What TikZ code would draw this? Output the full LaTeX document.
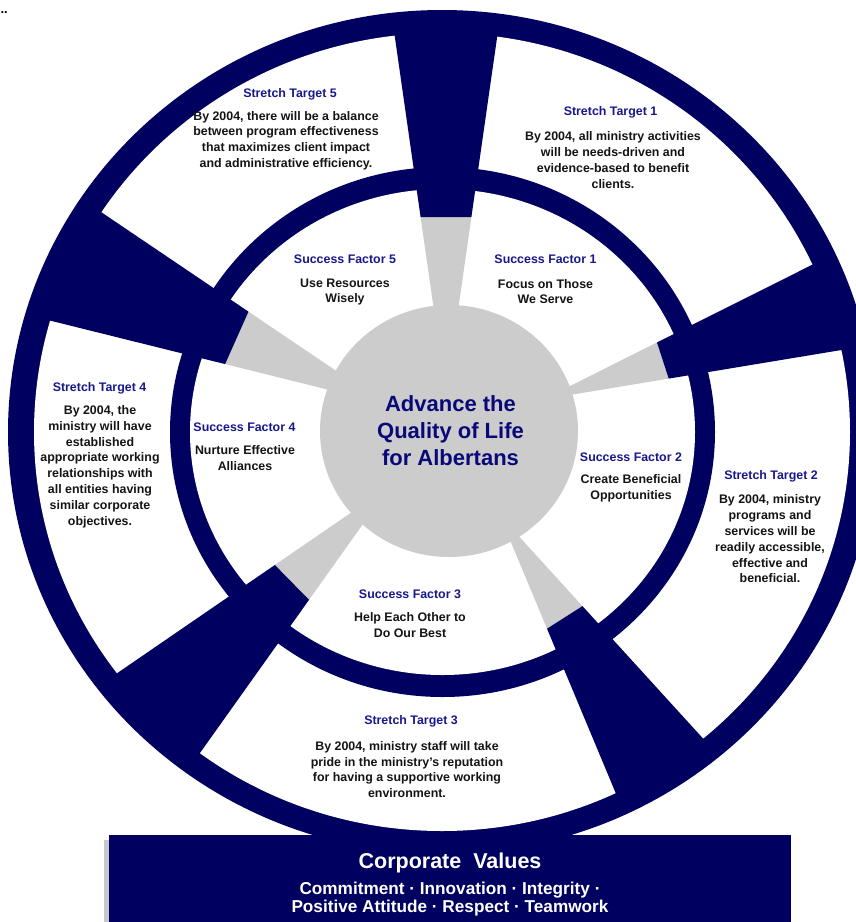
\documentclass[tikz,border=0pt]{standalone}
\usepackage{fontspec}
\setmainfont{Liberation Sans}
\definecolor{ringnavy}{RGB}{0,0,96}
\definecolor{headblue}{RGB}{24,24,140}
\definecolor{hubblue}{RGB}{8,8,120}
\definecolor{bodyink}{RGB}{20,20,20}
\definecolor{hubgray}{RGB}{204,204,204}
\definecolor{shadowgray}{RGB}{200,200,200}
\begin{document}
\begin{tikzpicture}[x=1pt,y=-1pt,
  headtxt/.style={font=\fontsize{12.4}{15.8}\selectfont\bfseries, text=headblue, inner sep=0pt},
  bodytxt/.style={font=\fontsize{12.4}{15.8}\selectfont\bfseries, text=bodyink, align=center, inner sep=0pt},
  hubtxt/.style={font=\fontsize{22}{27}\selectfont\bfseries, text=hubblue, align=center, inner sep=0pt},
]
% canvas
\fill[white] (0,0) rectangle (856,922);
\useasboundingbox (0,0) rectangle (856,922);
\node[anchor=base east, font=\fontsize{13}{15}\selectfont\bfseries, inner sep=0pt] (mark) at (8,13) {..};

% outer ring and middle ring
\fill[ringnavy] (442,432) ellipse [x radius=434, y radius=422];
\fill[white]    (442,432) ellipse [x radius=408, y radius=399];
\fill[ringnavy] (442.5,432) ellipse [x radius=272.5, y radius=265];
\fill[white]    (442.5,432) ellipse [x radius=252.5, y radius=243];

% spokes: grey inner part, navy outer part
\foreach \ang/\rg/\wg/\wo in {90/214/25.4/52, 18/228/19/45, -57.5/221/21/52, -135.5/216/24.4/57, 156/229/28.7/59} {
  \pgfmathsetmacro\slope{(\wo-\wg)/(400-\rg)}
  \pgfmathsetmacro\wi{max(\wg+\slope*(110-\rg),1)}
  \pgfmathsetmacro\wout{\wg+\slope*(414-\rg)}
  \begin{scope}[shift={(446,431)}, rotate=\ang]
    \fill[hubgray] (110,-\wi) -- (\rg,-\wg) -- (\rg,\wg) -- (110,\wi) -- cycle;
    \fill[ringnavy] (\rg,-\wg) -- (414,-\wout) -- (414,\wout) -- (\rg,\wg) -- cycle;
  \end{scope}
}

% hub
\fill[hubgray] (449,431) ellipse [x radius=129, y radius=126];
\node[hubtxt] (hub) at (450.5,431) {Advance the\\Quality of Life\\for Albertans};

% stretch targets
\node[headtxt] (st1h) at (610.5,112) {Stretch Target 1};
\node[bodytxt] (st1b) at (613,160) {By 2004, all ministry activities\\will be needs-driven and\\evidence-based to benefit\\clients.};
\node[headtxt] (st2h) at (771,476) {Stretch Target 2};
\node[bodytxt] (st2b) at (770,539) {By 2004, ministry\\programs and\\services will be\\readily accessible,\\effective and\\beneficial.};
\node[headtxt] (st3h) at (411,721) {Stretch Target 3};
\node[bodytxt] (st3b) at (407,769.5) {By 2004, ministry staff will take\\pride in the ministry’s reputation\\for having a supportive working\\environment.};
\node[headtxt] (st4h) at (99.5,388) {Stretch Target 4};
\node[bodytxt] (st4b) at (100,466.5) {By 2004, the\\ministry will have\\established\\appropriate working\\relationships with\\all entities having\\similar corporate\\objectives.};
\node[headtxt] (st5h) at (290,94) {Stretch Target 5};
\node[bodytxt] (st5b) at (286,140.5) {By 2004, there will be a balance\\between program effectiveness\\that maximizes client impact\\and administrative efficiency.};

% success factors
\node[headtxt] (sf1h) at (545.5,259) {Success Factor 1};
\node[bodytxt] (sf1b) at (545.5,291.5) {Focus on Those\\We Serve};
\node[headtxt] (sf2h) at (631,457) {Success Factor 2};
\node[bodytxt] (sf2b) at (631,488.5) {Create Beneficial\\Opportunities};
\node[headtxt] (sf3h) at (410,594) {Success Factor 3};
\node[bodytxt] (sf3b) at (410,625) {Help Each Other to\\Do Our Best};
\node[headtxt] (sf4h) at (244.5,427) {Success Factor 4};
\node[bodytxt] (sf4b) at (245,458) {Nurture Effective\\Alliances};
\node[headtxt] (sf5h) at (345,259) {Success Factor 5};
\node[bodytxt] (sf5b) at (345,292) {Use Resources\\Wisely};

% corporate values banner
\fill[shadowgray] (104,840) rectangle (786,922);
\fill[ringnavy] (109,835) rectangle (791,922);
\node[font=\fontsize{21.5}{24}\selectfont\bfseries, text=white, inner sep=0pt] (cvh) at (450,863) {Corporate\ \ Values};
\node[font=\fontsize{17.2}{15}\selectfont\bfseries, text=white, align=center, inner sep=0pt] (cvb) at (450,899) {Commitment · Innovation · Integrity ·\\Positive Attitude · Respect · Teamwork};
\end{tikzpicture}
\end{document}
